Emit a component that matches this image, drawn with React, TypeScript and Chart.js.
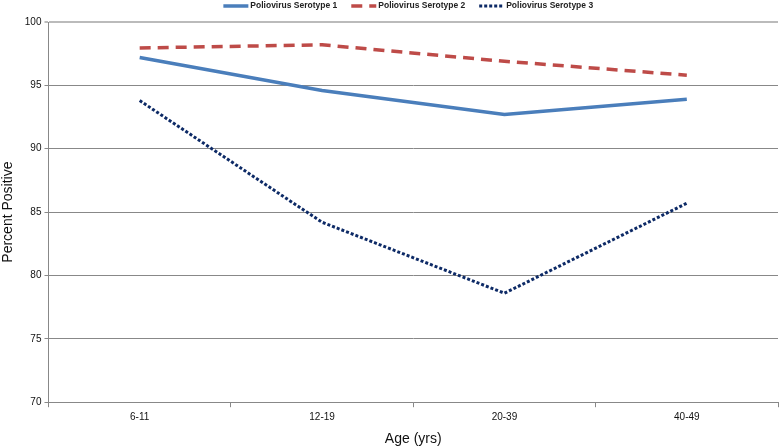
import React, { useEffect, useRef } from "react";
import { Chart, registerables } from "chart.js";

Chart.register(...registerables);

const categories = ["6-11", "12-19", "20-39", "40-49"];
const serotype1 = [97.2, 94.6, 92.7, 93.9];
const serotype2 = [97.95, 98.2, 96.9, 95.8];
const serotype3 = [93.8, 84.2, 78.6, 85.7];
const seriesNames = ["Poliovirus Serotype 1", "Poliovirus Serotype 2", "Poliovirus Serotype 3"];

const FONT = "Liberation Sans";

const lineLegend = {
  id: "lineLegend",
  afterDraw(chart: any) {
    const ctx = chart.ctx as CanvasRenderingContext2D;
    const area = chart.chartArea;
    const datasets = chart.data.datasets;
    const lineW = 25;
    const gapText = 2;
    const gapItem = 14;
    ctx.save();
    ctx.font = `bold 8.5px "${FONT}"`;
    const widths = datasets.map((d: any) => lineW + gapText + ctx.measureText(d.label).width);
    const total = widths.reduce((a: number, b: number) => a + b, 0) + gapItem * (datasets.length - 1);
    let x = (area.left + area.right) / 2 - 5 - total / 2;
    const y = 6;
    datasets.forEach((d: any, i: number) => {
      ctx.beginPath();
      ctx.strokeStyle = d.borderColor;
      ctx.lineWidth = d.borderWidth;
      ctx.setLineDash(d.borderDash || []);
      ctx.lineCap = "butt";
      ctx.moveTo(x, y);
      ctx.lineTo(x + lineW, y);
      ctx.stroke();
      ctx.setLineDash([]);
      ctx.fillStyle = "#222";
      ctx.textBaseline = "middle";
      ctx.textAlign = "left";
      ctx.fillText(d.label, x + lineW + gapText, y);
      x += widths[i] + gapItem;
    });
    ctx.restore();
  },
};

export default function App() {
  const ref = useRef<HTMLCanvasElement | null>(null);
  useEffect(() => {
    const ctx = ref.current!;
    const chart = new Chart(ctx, {
      type: "line",
      data: {
        labels: categories,
        datasets: [
          {
            label: seriesNames[0],
            data: serotype1,
            borderColor: "#4a7ebb",
            backgroundColor: "#4a7ebb",
            borderWidth: 3.5,
            pointRadius: 0,
            tension: 0,
          },
          {
            label: seriesNames[1],
            data: serotype2,
            borderColor: "#be4b48",
            backgroundColor: "#be4b48",
            borderWidth: 3.5,
            borderDash: [11, 7],
            pointRadius: 0,
            tension: 0,
          },
          {
            label: seriesNames[2],
            data: serotype3,
            borderColor: "#0d2a66",
            backgroundColor: "#0d2a66",
            borderWidth: 3,
            borderDash: [3, 2],
            pointRadius: 0,
            tension: 0,
          },
        ],
      },
      options: {
        animation: false,
        responsive: false,
        maintainAspectRatio: false,
        layout: { padding: { left: 0, right: 1, top: 22, bottom: 0 } },
        plugins: {
          legend: { display: false },
          tooltip: { enabled: false },
        },
        scales: {
          x: {
            offset: true,
            grid: {
              offset: true,
              drawOnChartArea: false,
              drawTicks: true,
              tickLength: 5,
              color: "#888",
            },
            border: { color: "#888", width: 1 },
            ticks: {
              color: "#111",
              font: { family: FONT, size: 10 },
              padding: 4,
            },
            title: {
              display: true,
              text: "Age (yrs)",
              color: "#111",
              font: { family: FONT, size: 14 },
              padding: { top: 4, bottom: 0 },
            },
          },
          y: {
            min: 70,
            max: 100,
            ticks: {
              stepSize: 5,
              color: "#111",
              font: { family: FONT, size: 10 },
              padding: 3,
            },
            grid: {
              color: (c: any) => (c.tick && c.tick.value === 100 ? "#bbb" : "#888"),
              lineWidth: (c: any) => (c.tick && c.tick.value === 100 ? 2 : 1),
              tickLength: 4,
            },
            border: { color: "#888", width: 1 },
            title: {
              display: true,
              text: "Percent Positive",
              color: "#111",
              font: { family: FONT, size: 14 },
              padding: { top: 0, bottom: 5 },
            },
          },
        },
      },
      plugins: [lineLegend],
    });
    return () => chart.destroy();
  }, []);
  return (
    <div style={{ position: "fixed", left: 0, top: 0, width: 779, height: 448, background: "#fff" }}>
      <canvas ref={ref} width={779} height={448} style={{ width: 779, height: 448 }} />
    </div>
  );
}
